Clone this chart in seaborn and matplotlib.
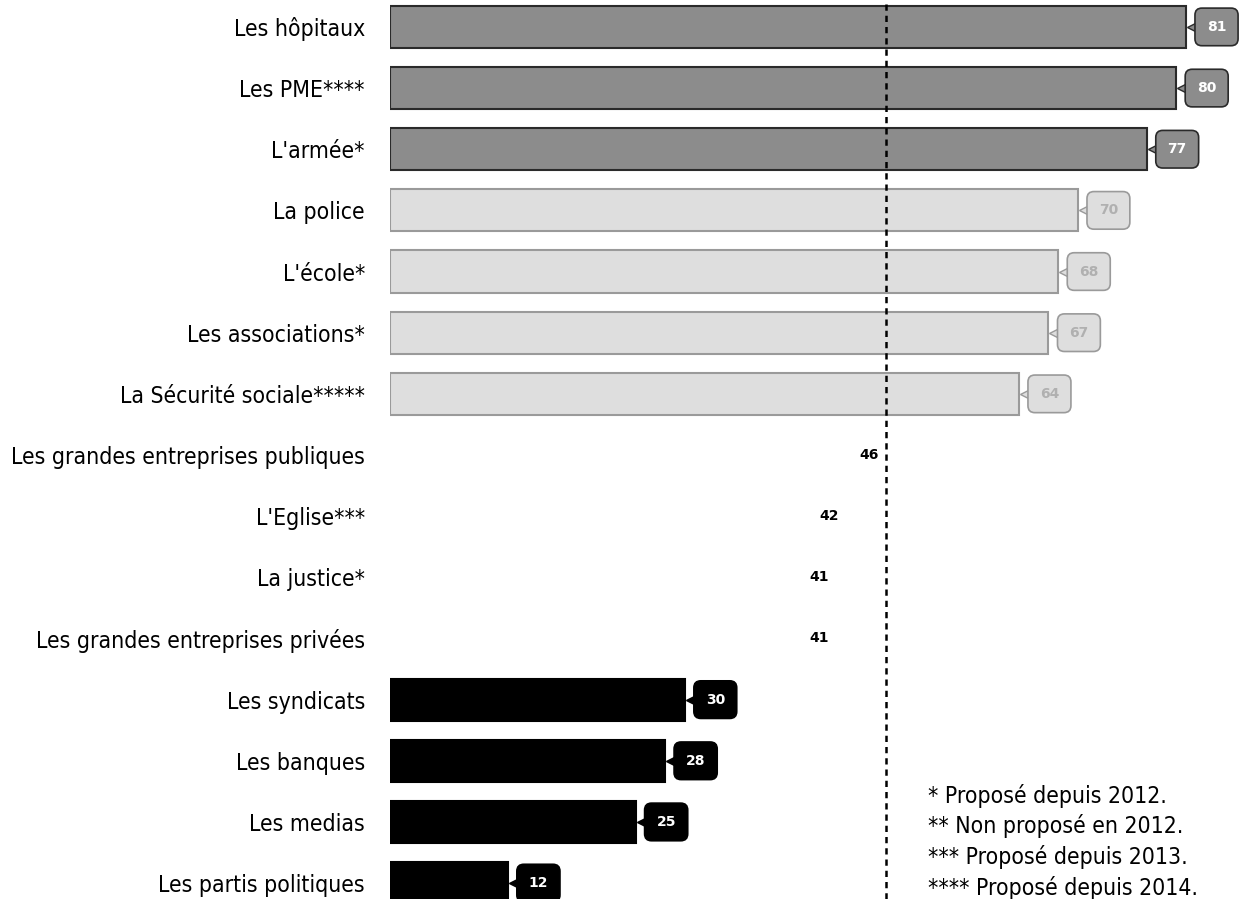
import matplotlib
matplotlib.use("Agg")
import matplotlib.pyplot as plt
from matplotlib import font_manager
import seaborn as sns
import pandas as pd

institutions = [
    "Les hôpitaux", "Les PME****", "L'armée*", "La police", "L'école*",
    "Les associations*", "La Sécurité sociale*****",
    "Les grandes entreprises publiques", "L'Eglise***", "La justice*",
    "Les grandes entreprises privées", "Les syndicats", "Les banques",
    "Les medias", "Les partis politiques",
]
confiance = [81, 80, 77, 70, 68, 67, 64, 46, 42, 41, 41, 30, 28, 25, 12]
groupe = ["haut"] * 3 + ["moyen"] * 4 + ["neutre"] * 4 + ["bas"] * 4
moyenne = 50.5
notes = [
    "* Proposé depuis 2012.",
    "** Non proposé en 2012.",
    "*** Proposé depuis 2013.",
    "**** Proposé depuis 2014.",
]

# styles par groupe : barre, bord, texte du label
bar_col = {"haut": "#8c8c8c", "moyen": "#dedede", "neutre": "white", "bas": "black"}
edge_col = {"haut": "#2a2a2a", "moyen": "#9a9a9a", "neutre": "white", "bas": "black"}
txt_col = {"haut": "white", "moyen": "#b0b0b0", "neutre": "black", "bas": "white"}

df = pd.DataFrame({"institution": institutions, "valeur": confiance, "groupe": groupe})

sns.set_theme(style="white")
plt.rcParams["font.family"] = ["DejaVu Sans"]
# police étroite si disponible
condensed = any(f.name == "DejaVu Sans" and f.stretch == "condensed"
                for f in font_manager.fontManager.ttflist)
plt.rcParams["font.stretch"] = "condensed" if condensed else "normal"
lab_size = 16.5 if condensed else 15

fig = plt.figure(figsize=(12.46, 8.99), dpi=100)
ax = fig.add_axes([0.313, 0.0, 0.687, 1.0])

sns.barplot(data=df, x="valeur", y="institution", hue="institution",
            palette=[bar_col[g] for g in groupe], orient="h", width=0.69,
            legend=False, ax=ax)
for patch, g in zip(ax.patches, groupe):
    patch.set_edgecolor(edge_col[g])
    patch.set_linewidth(1.5)

# étiquettes des valeurs
for i, (v, g) in enumerate(zip(confiance, groupe)):
    if g == "neutre":
        ax.text(v + 2.7, i, str(v), ha="center", va="center", fontsize=10,
                fontweight="bold", fontstretch="normal", color="black")
        continue
    ax.plot(v + 0.9, i, marker="<", markersize=12, color=bar_col[g],
            markeredgecolor=edge_col[g], zorder=4)
    ax.text(v + 3.1, i, str(v), ha="center", va="center", fontsize=10,
            fontweight="bold", fontstretch="normal", color=txt_col[g], zorder=5,
            bbox=dict(boxstyle="round,pad=0.85,rounding_size=0.5",
                      fc=bar_col[g], ec=edge_col[g], lw=1.2))

ax.axvline(moyenne, color="black", ls=(0, (2.5, 2)), lw=1.8, zorder=6)

ax.set_xlim(0, 87.1)
ax.set_ylim(14.26, -0.44)
ax.set_xlabel("")
ax.set_ylabel("")
ax.set_xticks([])
ax.tick_params(axis="y", length=0, pad=18, labelsize=lab_size, labelcolor="black")
for s in ax.spines.values():
    s.set_visible(False)

for k, n in enumerate(notes):
    fig.text(928 / 1246, 1 - (796 + 30.5 * k) / 899, n, fontsize=lab_size,
             ha="left", va="center", color="black")

fig.savefig("out.png", dpi=100)
